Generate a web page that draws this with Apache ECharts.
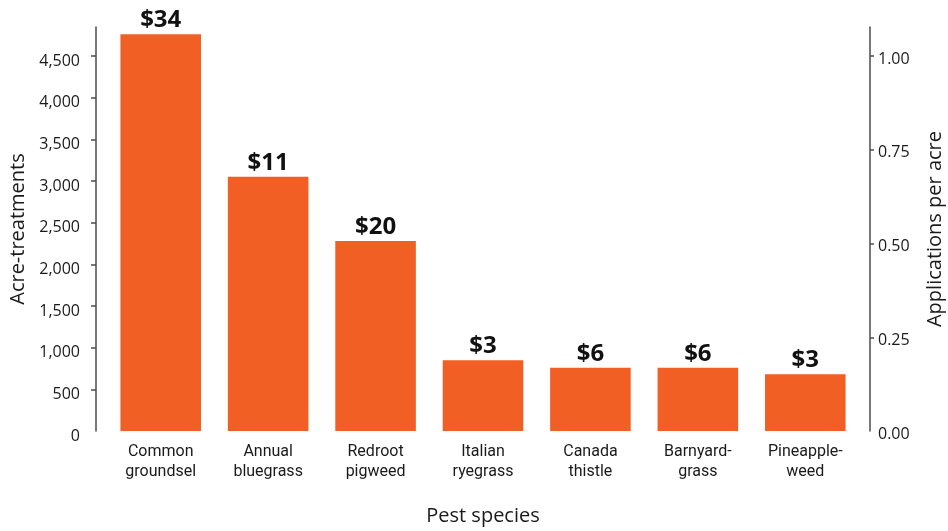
<!DOCTYPE html>
<html>
<head>
<meta charset="utf-8">
<script src="https://cdn.jsdelivr.net/npm/echarts@6/dist/echarts.min.js"></script>
<style>
  html, body { margin: 0; padding: 0; background: #fff; }
  #chart { width: 948px; height: 531px; }
</style>
</head>
<body>
<div id="chart"></div>
<script>
// Weed species treated, acre-treatments and cost per acre
const categories = [
  'Common\ngroundsel', 'Annual\nbluegrass', 'Redroot\npigweed', 'Italian\nryegrass',
  'Canada\nthistle', 'Barnyard-\ngrass', 'Pineapple-\nweed'
];
const acreTreatments = [4760, 3050, 2280, 850, 760, 760, 680];
const costLabels = ['$34', '$11', '$20', '$3', '$6', '$6', '$3'];
const leftTicks = [0, 500, 1000, 1500, 2000, 2500, 3000, 3500, 4000, 4500];
const rightTicks = [0, 0.25, 0.5, 0.75, 1.0];

const leftMax = 4848;
const rightMax = leftMax / 4500;

const axisColor = '#4d4d4d';
const textColor = '#1a1a1a';

const chart = echarts.init(document.getElementById('chart'), null, { renderer: 'canvas' });

chart.setOption({
  animation: false,
  backgroundColor: '#fff',
  grid: {
    left: 107, right: 89, top: 27, bottom: 100,
    containLabel: false, outerBoundsMode: 'none'
  },
  xAxis: {
    type: 'category',
    data: categories,
    name: 'Pest species',
    nameLocation: 'middle',
    nameGap: 75,
    nameTextStyle: { fontFamily: 'Open Sans', fontSize: 20, color: textColor },
    axisLine: { show: false },
    axisTick: { show: false },
    axisLabel: {
      fontFamily: 'Roboto', fontSize: 16, color: textColor,
      lineHeight: 20, margin: 11, interval: 0
    }
  },
  yAxis: [
    {
      type: 'value',
      min: 0, max: leftMax,
      offset: 11,
      name: 'Acre-treatments',
      nameLocation: 'middle',
      nameGap: 66,
      nameTextStyle: { fontFamily: 'Open Sans', fontSize: 20, color: textColor },
      splitLine: { show: false },
      axisLine: { show: true, lineStyle: { color: axisColor, width: 1.5 } },
      axisTick: {
        show: true, length: 5, lineStyle: { color: axisColor, width: 1.5 },
        customValues: leftTicks.slice(1)
      },
      axisLabel: {
        customValues: leftTicks,
        fontFamily: 'Open Sans', fontSize: 16, color: textColor, margin: 16,
        verticalAlign: 'top', lineHeight: 10,
        formatter: v => v.toLocaleString('en-US')
      }
    },
    {
      type: 'value',
      min: 0, max: rightMax,
      offset: 11,
      position: 'right',
      name: 'Applications per acre',
      nameLocation: 'middle',
      nameGap: 55,
      nameRotate: 90,
      nameTextStyle: { fontFamily: 'Open Sans', fontSize: 20, color: textColor },
      splitLine: { show: false },
      axisLine: { show: true, lineStyle: { color: axisColor, width: 1.5 } },
      axisTick: {
        show: true, length: 4, lineStyle: { color: axisColor, width: 1.5 },
        customValues: rightTicks.slice(1)
      },
      axisLabel: {
        customValues: rightTicks,
        fontFamily: 'Open Sans', fontSize: 16, color: textColor, margin: 8,
        verticalAlign: 'top', lineHeight: 6,
        formatter: v => v.toFixed(2)
      }
    }
  ],
  series: [
    {
      type: 'bar',
      yAxisIndex: 0,
      data: acreTreatments,
      barWidth: '75%',
      itemStyle: { color: '#F15F25' },
      label: {
        show: true,
        position: 'top',
        distance: 2,
        fontFamily: 'Open Sans',
        fontWeight: 'bold',
        fontSize: 24,
        color: '#111',
        formatter: p => costLabels[p.dataIndex]
      }
    }
  ]
});
</script>
</body>
</html>
